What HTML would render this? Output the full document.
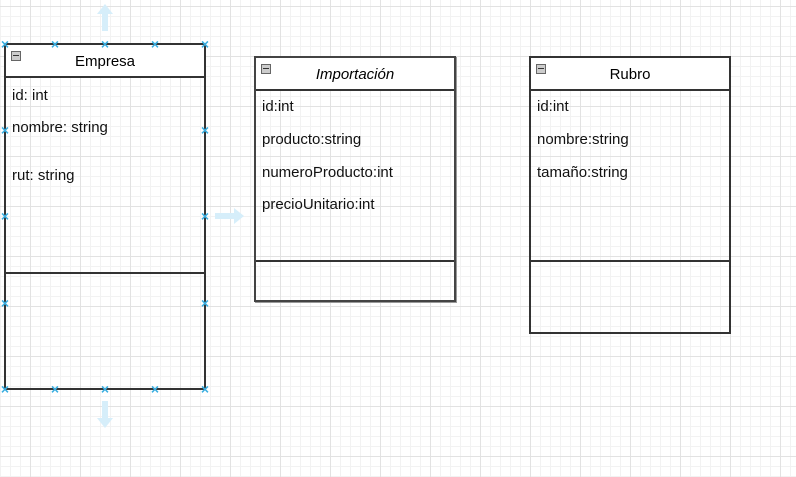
<!DOCTYPE html>
<html><head><meta charset="utf-8"><style>
body{margin:0;width:796px;height:477px;overflow:hidden;background:#fff;font-family:"Liberation Sans",Arial,sans-serif;}
.grid{position:absolute;left:0;top:0;width:796px;height:477px;
background-image:
linear-gradient(to right,#e2e2e2 1px,transparent 1px),
linear-gradient(to bottom,#e2e2e2 1px,transparent 1px),
linear-gradient(to right,#f2f2f2 1px,transparent 1px),
linear-gradient(to bottom,#f2f2f2 1px,transparent 1px);
background-size:50px 50px,50px 50px,10px 10px,10px 10px;
background-position:30px 6px,30px 6px,0 6px,0 6px;}
.box{position:absolute;border:2px solid #333;box-sizing:border-box;}
.hdr{position:absolute;left:0;right:0;top:0;background:#fff;border-bottom:2px solid #333;text-align:center;font-size:15px;color:#000;box-sizing:border-box;}
.min{position:absolute;left:5px;top:6px;width:10px;height:10px;background:#ccc;border:1px solid #666;box-sizing:border-box;}
.min:after{content:"";position:absolute;left:1px;right:1px;top:3px;height:1px;background:#333;}
.div{position:absolute;left:0;right:0;border-top:2px solid #333;}
.t{position:absolute;font-size:15px;color:#111;white-space:nowrap;}
.x{position:absolute;color:#3aaee0;font-size:14px;font-weight:bold;line-height:10px;width:10px;text-align:center;margin-left:-5px;margin-top:-5px;}
</style></head><body>
<div class="grid"></div>

<svg style="position:absolute;left:0;top:0" width="796" height="477">
<polygon points="105,4 113,14 108,14 108,31 102,31 102,14 97,14" fill="#d6eefa"/>
<polygon points="105,428 113,418 108,418 108,401 102,401 102,418 97,418" fill="#d6eefa"/>
<polygon points="244,216 234,208 234,213 215,213 215,219 234,219 234,224" fill="#d6eefa"/>
</svg>

<div class="box" style="left:4px;top:43px;width:202px;height:347px;">
<div class="hdr" style="height:33px;line-height:33px;">Empresa</div><div class="min"></div>
<div class="div" style="top:227px"></div>
</div>
<div class="t" style="left:12px;top:87px">id: int</div>
<div class="t" style="left:12px;top:119px">nombre: string</div>
<div class="t" style="left:12px;top:167px">rut: string</div>

<div class="box" style="left:254px;top:56px;width:202px;height:246px;border-color:#444;box-shadow:1px 1px 0 #999;">
<div class="hdr" style="height:33px;line-height:33px;font-style:italic;">Importación</div><div class="min"></div>
<div class="div" style="top:202px"></div>
</div>
<div class="t" style="left:262px;top:98px">id:int</div>
<div class="t" style="left:262px;top:131px">producto:string</div>
<div class="t" style="left:262px;top:164px">numeroProducto:int</div>
<div class="t" style="left:262px;top:196px">precioUnitario:int</div>

<div class="box" style="left:529px;top:56px;width:202px;height:278px;">
<div class="hdr" style="height:33px;line-height:33px;">Rubro</div><div class="min"></div>
<div class="div" style="top:202px"></div>
</div>
<div class="t" style="left:537px;top:98px">id:int</div>
<div class="t" style="left:537px;top:131px">nombre:string</div>
<div class="t" style="left:537px;top:164px">tamaño:string</div>

<div class="x" style="left:5px;top:44px">×</div><div class="x" style="left:55px;top:44px">×</div><div class="x" style="left:105px;top:44px">×</div><div class="x" style="left:155px;top:44px">×</div><div class="x" style="left:205px;top:44px">×</div>
<div class="x" style="left:5px;top:389px">×</div><div class="x" style="left:55px;top:389px">×</div><div class="x" style="left:105px;top:389px">×</div><div class="x" style="left:155px;top:389px">×</div><div class="x" style="left:205px;top:389px">×</div>
<div class="x" style="left:5px;top:130px">×</div><div class="x" style="left:5px;top:216px">×</div><div class="x" style="left:5px;top:303px">×</div>
<div class="x" style="left:205px;top:130px">×</div><div class="x" style="left:205px;top:216px">×</div><div class="x" style="left:205px;top:303px">×</div>
</body></html>
